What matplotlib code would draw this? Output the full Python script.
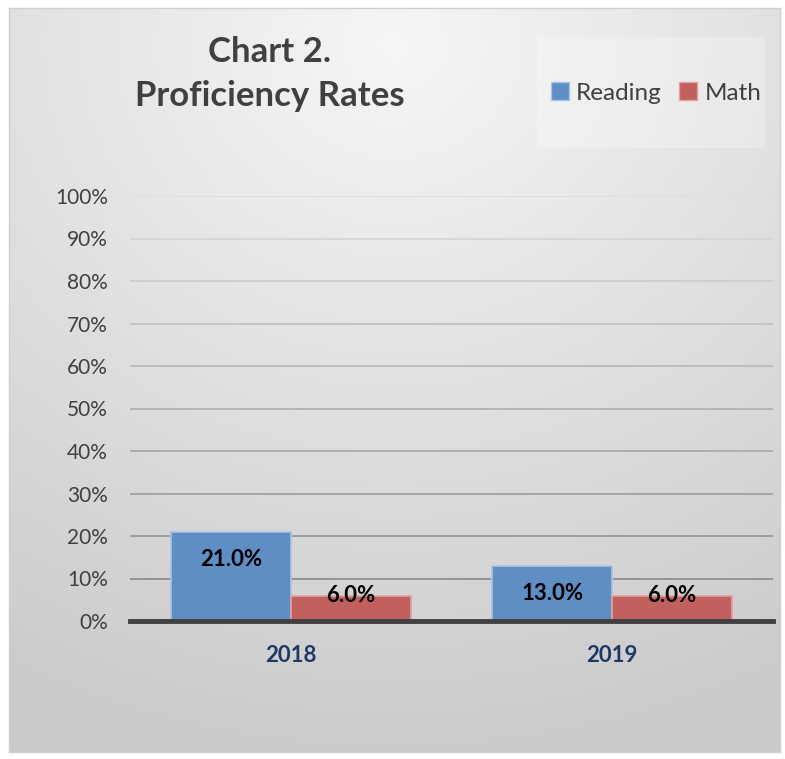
import numpy as np
import matplotlib.pyplot as plt
from matplotlib.patches import Rectangle, Patch

years = ['2018', '2019']
reading = [21.0, 13.0]
math_ = [6.0, 6.0]
yticks = [0, 10, 20, 30, 40, 50, 60, 70, 80, 90, 100]

plt.rcParams['font.family'] = ['Lato', 'DejaVu Sans']

W, H = 785, 759
fig = plt.figure(figsize=(W / 100, H / 100), dpi=100)

# gradient background inside the chart frame
bg = fig.add_axes([9 / W, 1 - 752 / H, (780 - 9) / W, (752 - 8) / H])
yy, xx = np.mgrid[0:1:200j, 0:1:200j]
d = np.sqrt(((xx - 0.5) * 1.0) ** 2 + ((yy - 0.05) * 1.1) ** 2)
shade = 0.965 - 0.17 * np.clip(d / 1.05, 0, 1)
bg.imshow(np.dstack([shade] * 3), aspect='auto', extent=[0, 1, 1, 0], interpolation='bilinear')
bg.set_xticks([])
bg.set_yticks([])
for s in bg.spines.values():
    s.set_color('#d0d0d0')
    s.set_linewidth(1)

# legend box
fig.patches.append(Rectangle((537 / W, 1 - 148 / H), 228 / W, 111 / H,
                             transform=fig.transFigure, facecolor='white', alpha=0.25,
                             edgecolor='none', zorder=1))

ax = fig.add_axes([130 / W, 1 - 621 / H, (773 - 130) / W, (621 - 196) / H])
ax.patch.set_alpha(0)

x = np.arange(len(years))
w = 120 / 321.5
blue = '#5f8ec5'
red = '#c1605d'
ax.bar(x - w / 2, reading, w, color=blue, edgecolor='#a9c4e4', linewidth=1.2, zorder=3)
ax.bar(x + w / 2, math_, w, color=red, edgecolor='#e0a3a1', linewidth=1.2, zorder=3)

for i in range(len(years)):
    ax.annotate(f'{reading[i]:.1f}%', (x[i] - w / 2, reading[i]), xytext=(0, -20),
                textcoords='offset points', ha='center', va='center',
                fontsize=16, fontweight='bold', color='black', zorder=4)
    ax.annotate(f'{math_[i]:.1f}%', (x[i] + w / 2, math_[i]), xytext=(0, 0),
                textcoords='offset points', ha='center', va='center',
                fontsize=16, fontweight='bold', color='black', zorder=4)

ax.set_xlim(-0.5, 1.5)
ax.set_ylim(0, 100)
ax.set_yticks(yticks)
ax.set_yticklabels([f'{t}%' for t in yticks], fontsize=15, color='#404040')
ax.set_xticks(x)
ax.set_xticklabels(years, fontsize=16, fontweight='bold', color='#1f3864')
ax.tick_params(length=0)
ax.tick_params(axis='y', pad=16)
ax.tick_params(axis='x', pad=17)
for t in yticks[1:]:
    g = 0.55 + 0.32 * (t / 100)
    ax.axhline(t, color=(g, g, g), linewidth=1.4, zorder=1)
for s in ['top', 'right', 'left']:
    ax.spines[s].set_visible(False)
ax.spines['bottom'].set_color('#404040')
ax.spines['bottom'].set_linewidth(3.5)
ax.spines['bottom'].set_zorder(5)

fig.text(270 / W, 1 - 74 / H, 'Chart 2.\nProficiency Rates', ha='center', va='center',
         fontsize=25, fontweight='bold', color='#404040', linespacing=1.45)

handles = [Patch(facecolor=blue, edgecolor='#a9c4e4', label='Reading'),
           Patch(facecolor=red, edgecolor='#e0a3a1', label='Math')]
fig.legend(handles=handles, loc='center', bbox_to_anchor=(656 / W, 1 - 93 / H), ncol=2,
           frameon=False, fontsize=17.5, labelcolor='#404040', handlelength=0.75,
           handleheight=0.75, handletextpad=0.3, columnspacing=0.7)

fig.savefig('out.png', dpi=100)
